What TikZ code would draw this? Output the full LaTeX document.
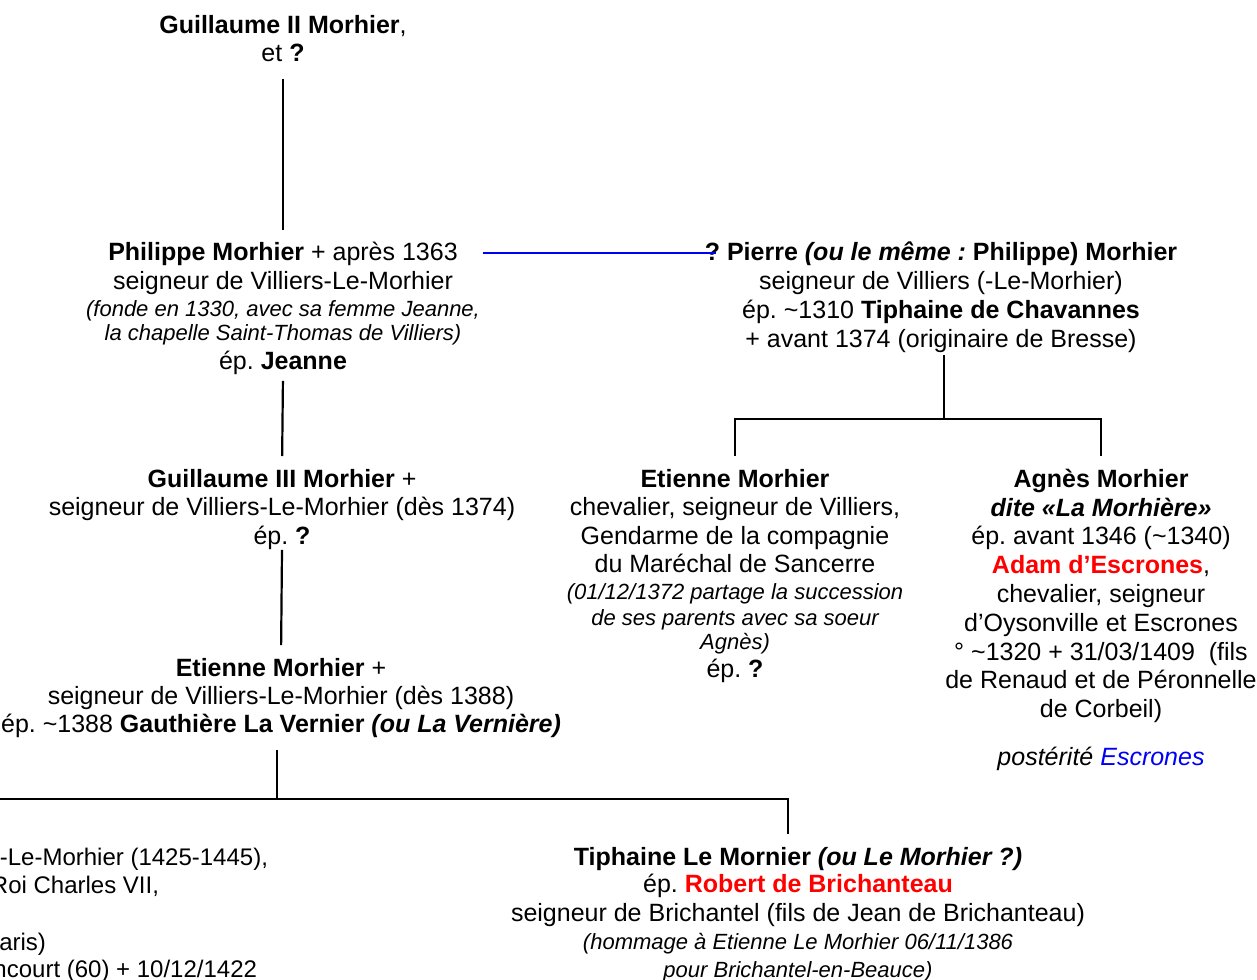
\documentclass[tikz,border=0pt]{standalone}
\usepackage{fontspec}
\setmainfont{Liberation Sans}
\usepackage{tikz}
\usetikzlibrary{positioning}
\frenchspacing

\definecolor{kinred}{RGB}{255,0,0}
\definecolor{linkblue}{RGB}{0,0,245}
\newcommand{\remark}[1]{{\fontsize{11}{13}\selectfont\itshape #1}}
\newcommand{\abt}{\textasciitilde}

\begin{document}
\begin{tikzpicture}[x=0.5pt,y=-0.5pt]
\tikzstyle{every node} = [inner sep=0pt, outer sep=0pt, align=center, anchor=north, font=\fontsize{12.5}{14.4}\selectfont]
\tikzstyle{scrap} = [anchor=base east, font=\fontsize{12}{14.4}\selectfont]
\tikzstyle{link} = [draw, line width=1.1pt]
\tikzstyle{marriage} = [draw=linkblue, line width=1.1pt]
\useasboundingbox (0,0) rectangle (1257,979);

% first generations
\node (GII) at (283,15) {\textbf{Guillaume II Morhier},\\ et \textbf{?}};
\node (PM) at (283,242) {\textbf{Philippe Morhier} + après 1363\\
  seigneur de Villiers-Le-Morhier\\[-1pt]
  \remark{(fonde en 1330, avec sa femme Jeanne,}\\[-2pt]
  \remark{la chapelle Saint-Thomas de Villiers)}\\
  ép. \textbf{Jeanne}};
\node (PP) at (941,242) {\textbf{? Pierre \textit{(ou le même :} Philippe) Morhier}\\
  seigneur de Villiers (-Le-Morhier)\\
  ép. \abt1310 \textbf{Tiphaine de Chavannes}\\
  + avant 1374 (originaire de Bresse)};

% children
\node (GIII) at (282,469) {\textbf{Guillaume III Morhier} +\\
  seigneur de Villiers-Le-Morhier (dès 1374)\\
  ép. \textbf{?}};
\node (ER) at (735,469) {\textbf{Etienne Morhier}\\
  chevalier, seigneur de Villiers,\\
  Gendarme de la compagnie\\[-0.5pt]
  du Maréchal de Sancerre\\[-1pt]
  \remark{(01/12/1372 partage la succession}\\[-1.5pt]
  \remark{de ses parents avec sa soeur}\\[-2pt]
  \remark{Agnès)}\\[-0.5pt]
  ép. \textbf{?}};
\node (AM) at (1101,469) {\textbf{Agnès Morhier}\\
  \textbf{\textit{dite «La Morhière»}}\\
  ép. avant 1346 (\abt1340)\\
  \textcolor{kinred}{\textbf{Adam d’Escrones}},\\
  chevalier, seigneur\\
  d’Oysonville et Escrones\\
  ° \abt1320 + 31/03/1409 \ (fils\\
  de Renaud et de Péronnelle\\
  de Corbeil)\\[9.5pt]
  \textit{postérité \textcolor{linkblue}{Escrones}}};
\node (EMP) at (281,658) {\textbf{Etienne Morhier} +\\
  seigneur de Villiers-Le-Morhier (dès 1388)\\[-0.5pt]
  ép. \abt1388 \textbf{Gauthière La Vernier \textit{(ou La Vernière)}}};

% grandchildren
\node (TM) at (798,847) {\textbf{Tiphaine Le Mornier \textit{(ou Le Morhier ?)}}\\[-0.5pt]
  ép. \textcolor{kinred}{\textbf{Robert de Brichanteau}}\\
  seigneur de Brichantel (fils de Jean de Brichanteau)\\[-0.5pt]
  \remark{(hommage à Etienne Le Morhier 06/11/1386}\\[-0.5pt]
  \remark{pour Brichantel-en-Beauce)}};
\node[scrap] (JM1) at (268,865) {-Le-Morhier (1425-1445),};
\node[scrap] (JM2) at (159,893) {Roi Charles VII,};
\node[scrap] (JM3) at (46,950) {aris)};
\node[scrap] (JM4) at (257,977) {ncourt (60) + 10/12/1422};

% connectors
\coordinate (PPfork) at (944,419);
\coordinate (EMfork) at (277,799);
\coordinate (EMleft) at (-10,799);
\draw[link, shorten <=8.5pt, shorten >=6pt] (GII.south) -- (PM.north);
\draw[link, shorten <=3pt, shorten >=6.5pt] (PM.south) -- (GIII.north);
\draw[link, shorten >=6.5pt] (GIII.south) -- (EMP.north);
\draw[link, shorten <=6pt] (EMP.south -| EMfork) -- (EMfork);
\draw[link, shorten >=6.5pt] (EMleft) -| ([xshift=-5pt]TM.north);
\draw[link, shorten <=1.5pt] (PP.south -| PPfork) -- (PPfork);
\draw[link, shorten <=6.5pt, shorten >=6.5pt] (ER.north) |- (PPfork) -| (AM.north);
\draw[marriage] ([yshift=-5.5pt,xshift=1.5pt]PM.east |- PP.north) -- ([yshift=-5.5pt,xshift=5.5pt]PP.north west);
\end{tikzpicture}
\end{document}
